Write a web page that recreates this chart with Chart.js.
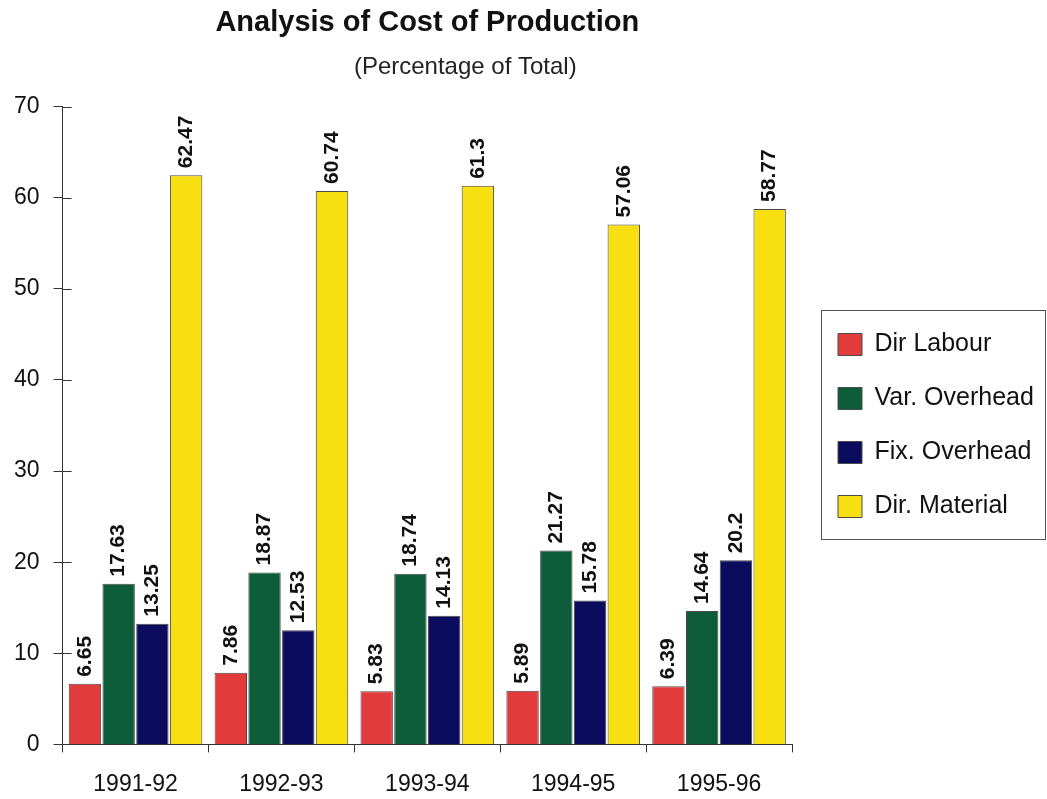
<!DOCTYPE html>
<html>
<head>
<meta charset="utf-8">
<title>Analysis of Cost of Production</title>
<script src="https://cdn.jsdelivr.net/npm/chart.js@4.4.1/dist/chart.umd.min.js"></script>
<style>
  html, body { margin: 0; padding: 0; background: #fff; }
  #chart { display: block; }
</style>
</head>
<body>
<canvas id="chart" width="1047" height="799"></canvas>
<script>
// data
const years = ['1991-92', '1992-93', '1993-94', '1994-95', '1995-96'];
const dirLabour = [6.65, 7.86, 5.83, 5.89, 6.39];
const varOverhead = [17.63, 18.87, 18.74, 21.27, 14.64];
const fixOverhead = [13.25, 12.53, 14.13, 15.78, 20.2];
const dirMaterial = [62.47, 60.74, 61.3, 57.06, 58.77];
const yTicks = [0, 10, 20, 30, 40, 50, 60, 70];

const TITLE = 'Analysis of Cost of Production';
const SUBTITLE = '(Percentage of Total)';
const FONT = 'Arial, "Liberation Sans", Helvetica, sans-serif';
const AXIS = '#333';

/* legend: fixed width, shifted a bit right, with a frame round it */
const legendFrame = {
  id: 'legendFrame',
  beforeInit(chart){
    const lg = chart.legend;
    const fit = lg.fit;
    lg.fit = function(){ fit.call(this); this.width = 255; };
  },
  afterLayout(chart){
    chart.legend.left += 17;
    // subtitle sits a little right of the title in the original
    const sub = chart.boxes.find(b => b.options && b.options.text === SUBTITLE);
    if(sub){ sub.left += 38; sub.right += 38; }
  },
  afterDraw(chart){
    const boxes = chart.legend.legendHitBoxes;
    if(!boxes || !boxes.length) return;
    const top = boxes[0].top - 22;
    const last = boxes[boxes.length-1];
    const bottom = last.top + last.height + 20;
    const ctx = chart.ctx;
    ctx.save();
    ctx.strokeStyle = '#555';
    ctx.lineWidth = 1;
    ctx.strokeRect(821.5, top + 0.5, 1045 - 821, bottom - top);
    ctx.restore();
  }
};

/* vertical value labels above each bar */
const barValues = {
  id: 'barValues',
  afterDatasetsDraw(chart){
    const ctx = chart.ctx;
    ctx.save();
    ctx.fillStyle = '#111';
    ctx.font = 'bold 21px ' + FONT;
    ctx.textAlign = 'left';
    ctx.textBaseline = 'middle';
    chart.data.datasets.forEach((ds, i)=>{
      chart.getDatasetMeta(i).data.forEach((bar, j)=>{
        ctx.save();
        ctx.translate(bar.x, bar.y - 7);
        ctx.rotate(-Math.PI/2);
        ctx.fillText(String(ds.data[j]), 0, 0);
        ctx.restore();
      });
    });
    ctx.restore();
  }
};

/* y ticks cross the axis line */
const innerTicks = {
  id: 'innerTicks',
  afterDraw(chart){
    const y = chart.scales.y;
    const ctx = chart.ctx;
    const x0 = chart.chartArea.left;
    ctx.save();
    ctx.strokeStyle = AXIS;
    ctx.lineWidth = 1;
    y.ticks.forEach((t, i)=>{
      const py = Math.round(y.getPixelForTick(i)) + 0.5;
      ctx.beginPath();
      ctx.moveTo(x0, py);
      ctx.lineTo(x0 + 9, py);
      ctx.stroke();
    });
    ctx.restore();
  }
};

function series(label, data, color){
  return { label, data, backgroundColor: color, borderColor: '#4a4a4a', borderWidth: 1,
    categoryPercentage: 0.925, barPercentage: 0.96 };
}

new Chart(document.getElementById('chart'), {
  type: 'bar',
  data: {
    labels: years,
    datasets: [
      series('Dir Labour', dirLabour, '#e23b3b'),
      series('Var. Overhead', varOverhead, '#0d5c3a'),
      series('Fix. Overhead', fixOverhead, '#0c0c5e'),
      series('Dir. Material', dirMaterial, '#f7df12')
    ]
  },
  options: {
    responsive: false,
    animation: false,
    layout: { padding: { left: 14, right: 0, top: 0, bottom: 1 } },
    plugins: {
      title: {
        display: true, text: TITLE, fullSize: false, color: '#111',
        font: { family: FONT, size: 29, weight: 'bold' },
        padding: { top: 6, bottom: 4 }
      },
      subtitle: {
        display: true, text: SUBTITLE, fullSize: false, color: '#222',
        font: { family: FONT, size: 24 },
        padding: { top: 8, bottom: 25 }
      },
      legend: {
        position: 'right', fullSize: false,
        labels: { boxWidth: 24, boxHeight: 22, padding: 29, color: '#111',
          font: { family: FONT, size: 25 } }
      },
      tooltip: { enabled: false }
    },
    scales: {
      x: {
        grid: { display: true, drawOnChartArea: false, tickLength: 8, color: AXIS, offset: true },
        border: { color: AXIS },
        ticks: { color: '#111', padding: 18, maxRotation: 0, font: { family: FONT, size: 23 } },
        afterFit(scale){ scale.height -= 18; }
      },
      y: {
        min: 0, max: 70,
        afterBuildTicks(scale){ scale.ticks = yTicks.map(v => ({ value: v })); },
        grid: { display: true, drawOnChartArea: false, tickLength: 9, color: AXIS },
        border: { color: AXIS },
        ticks: { color: '#111', padding: 14, font: { family: FONT, size: 23 } },
        afterFit(scale){ scale.width -= 14; }
      }
    }
  },
  plugins: [legendFrame, barValues, innerTicks]
});
</script>
</body>
</html>
